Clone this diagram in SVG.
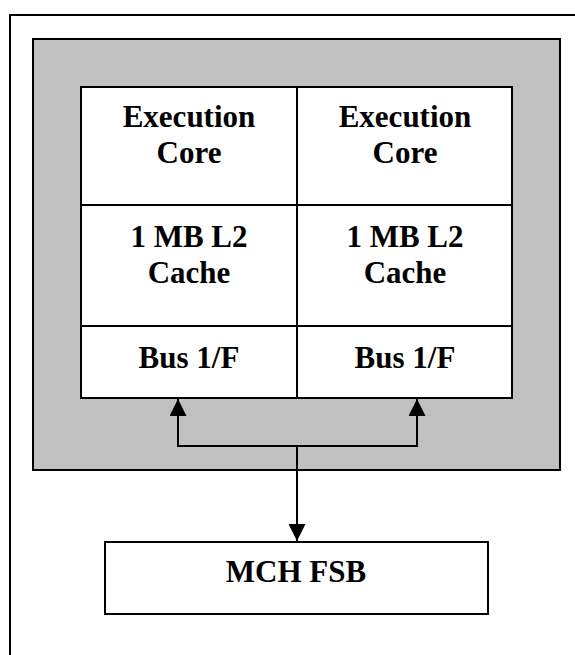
<svg xmlns="http://www.w3.org/2000/svg" width="575" height="655" viewBox="0 0 575 655">
  <style>
    .box { fill: #fff; stroke: #000; stroke-width: 2; }
    .line { fill: none; stroke: #000; stroke-width: 2; }
    text { font-family: 'Liberation Serif', 'Times New Roman', 'DejaVu Serif', serif; font-weight: bold; font-size: 31px; text-anchor: middle; fill: #000; }
  </style>
  <defs>
    <marker id="arrow" viewBox="0 0 10 10" refX="10" refY="5" markerWidth="8.5" markerHeight="8.5" orient="auto" markerUnits="strokeWidth">
      <path d="M0,0 L10,5 L0,10 Z" fill="#000"/>
    </marker>
  </defs>
  <rect width="575" height="655" fill="#fff"/>
  <!-- outer frame -->
  <path class="line" d="M10,660 V15 H580"/>
  <!-- processor package -->
  <g id="package">
    <rect x="33" y="39" width="527" height="431" fill="#c0c0c0" stroke="#000" stroke-width="2"/>
  </g>
  <g id="core-left">
    <rect class="box" x="81" y="87" width="216" height="118"/>
    <text x="189" y="127">Execution</text>
    <text x="189" y="163">Core</text>
  </g>
  <g id="core-right">
    <rect class="box" x="297" y="87" width="215" height="118"/>
    <text x="405" y="127">Execution</text>
    <text x="405" y="163">Core</text>
  </g>
  <g id="cache-left">
    <rect class="box" x="81" y="205" width="216" height="121"/>
    <text x="189" y="247">1 MB L2</text>
    <text x="189" y="283">Cache</text>
  </g>
  <g id="cache-right">
    <rect class="box" x="297" y="205" width="215" height="121"/>
    <text x="405" y="247">1 MB L2</text>
    <text x="405" y="283">Cache</text>
  </g>
  <g id="bus-left">
    <rect class="box" x="81" y="326" width="216" height="72"/>
    <text x="189" y="368">Bus 1/F</text>
  </g>
  <g id="bus-right">
    <rect class="box" x="297" y="326" width="215" height="72"/>
    <text x="405" y="368">Bus 1/F</text>
  </g>
  <g id="mch-fsb">
    <rect class="box" x="105" y="542" width="383" height="72"/>
    <text x="296" y="582">MCH FSB</text>
  </g>
  <g id="connectors">
    <path class="line" d="M297,446 H178 V399" marker-end="url(#arrow)"/>
    <path class="line" d="M297,446 H417 V399" marker-end="url(#arrow)"/>
    <path class="line" d="M297,446 V541" marker-end="url(#arrow)"/>
  </g>
</svg>
